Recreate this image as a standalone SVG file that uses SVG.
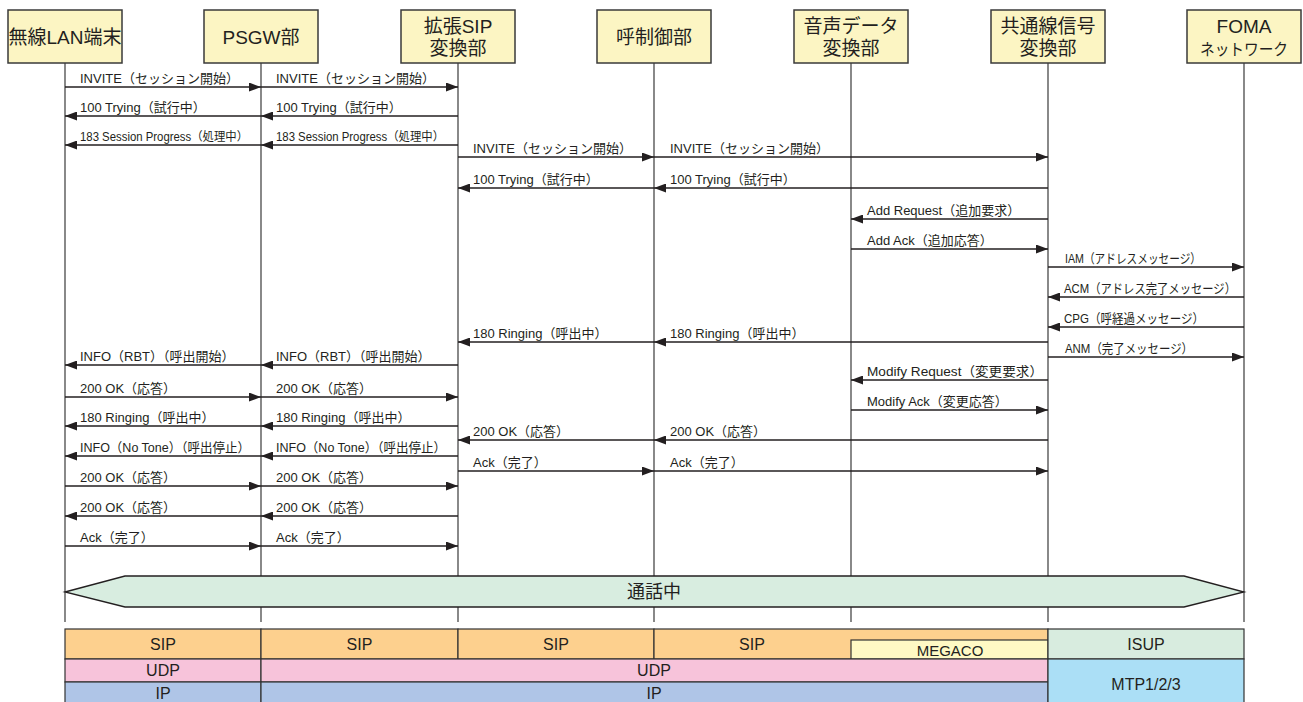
<svg xmlns="http://www.w3.org/2000/svg" width="1303" height="702" viewBox="0 0 1303 702">
<style>
text{font-family:"Liberation Sans","Noto Sans CJK JP",sans-serif;fill:#231f20}
.box{fill:#fcf5c3;stroke:#3a3a3a;stroke-width:1.5}
.ttl{font-size:19px;text-anchor:middle}
.ttls{font-size:16px;text-anchor:middle}
.life{stroke:#3a3a3a;stroke-width:1.2}
.msg{stroke:#231f20;stroke-width:1.3;marker-end:url(#ah)}
.lbl{font-size:13px}
.sm{font-size:12px}
.cell{stroke:#333;stroke-width:1.2}
.st{font-size:16px;text-anchor:middle}
.stm{font-size:15px;text-anchor:middle}
</style>
<defs>
<marker id="ah" markerUnits="userSpaceOnUse" markerWidth="13" markerHeight="9" refX="12" refY="4.5" orient="auto"><path d="M0,0 L12,4.5 L0,9 z" fill="#231f20"/></marker>
</defs>
<rect width="1303" height="702" fill="#fff"/>

<g id="lan">
<line class="life" x1="65" y1="63" x2="65" y2="622"/>
<rect class="box" x="8" y="10" width="114" height="53"/>
<text class="ttl" x="65" y="44">無線LAN端末</text>
</g>
<g id="psgw">
<line class="life" x1="261" y1="63" x2="261" y2="622"/>
<rect class="box" x="204" y="10" width="114" height="53"/>
<text class="ttl" x="261" y="44">PSGW部</text>
</g>
<g id="extsip">
<line class="life" x1="458" y1="63" x2="458" y2="622"/>
<rect class="box" x="401" y="10" width="114" height="53"/>
<text class="ttl" x="458" y="33">拡張SIP</text>
<text class="ttl" x="458" y="55">変換部</text>
</g>
<g id="callctl">
<line class="life" x1="654" y1="63" x2="654" y2="622"/>
<rect class="box" x="597" y="10" width="114" height="53"/>
<text class="ttl" x="654" y="44">呼制御部</text>
</g>
<g id="voice">
<line class="life" x1="851" y1="63" x2="851" y2="622"/>
<rect class="box" x="794" y="10" width="114" height="53"/>
<text class="ttl" x="851" y="33">音声データ</text>
<text class="ttl" x="851" y="55">変換部</text>
</g>
<g id="ccs">
<line class="life" x1="1048" y1="63" x2="1048" y2="622"/>
<rect class="box" x="991" y="10" width="114" height="53"/>
<text class="ttl" x="1048" y="33">共通線信号</text>
<text class="ttl" x="1048" y="55">変換部</text>
</g>
<g id="foma">
<line class="life" x1="1244" y1="63" x2="1244" y2="622"/>
<rect class="box" x="1187" y="10" width="114" height="53"/>
<text class="ttl" x="1244" y="33">FOMA</text>
<text class="ttls" x="1244" y="55" textLength="88" lengthAdjust="spacingAndGlyphs">ネットワーク</text>
</g>

<g id="connectors">
<line class="msg" x1="65" y1="87" x2="261" y2="87"/><text class="lbl" x="80" y="83">INVITE（セッション開始）</text>
<line class="msg" x1="261" y1="116" x2="65" y2="116"/><text class="lbl" x="80" y="112">100 Trying（試行中）</text>
<line class="msg" x1="261" y1="145" x2="65" y2="145"/><text class="sm" x="80" y="141" textLength="168" lengthAdjust="spacingAndGlyphs">183 Session Progress（処理中）</text>
<line class="msg" x1="261" y1="365" x2="65" y2="365"/><text class="lbl" x="80" y="361">INFO（RBT）（呼出開始）</text>
<line class="msg" x1="65" y1="397" x2="261" y2="397"/><text class="lbl" x="80" y="393">200 OK（応答）</text>
<line class="msg" x1="261" y1="426" x2="65" y2="426"/><text class="lbl" x="80" y="422">180 Ringing（呼出中）</text>
<line class="msg" x1="261" y1="456" x2="65" y2="456"/><text class="lbl" x="80" y="452" textLength="170" lengthAdjust="spacingAndGlyphs">INFO（No Tone）（呼出停止）</text>
<line class="msg" x1="65" y1="486" x2="261" y2="486"/><text class="lbl" x="80" y="482">200 OK（応答）</text>
<line class="msg" x1="261" y1="516" x2="65" y2="516"/><text class="lbl" x="80" y="512">200 OK（応答）</text>
<line class="msg" x1="65" y1="546" x2="261" y2="546"/><text class="lbl" x="80" y="542">Ack（完了）</text>

<line class="msg" x1="261" y1="87" x2="458" y2="87"/><text class="lbl" x="276" y="83">INVITE（セッション開始）</text>
<line class="msg" x1="458" y1="116" x2="261" y2="116"/><text class="lbl" x="276" y="112">100 Trying（試行中）</text>
<line class="msg" x1="458" y1="145" x2="261" y2="145"/><text class="sm" x="276" y="141" textLength="168" lengthAdjust="spacingAndGlyphs">183 Session Progress（処理中）</text>
<line class="msg" x1="458" y1="365" x2="261" y2="365"/><text class="lbl" x="276" y="361">INFO（RBT）（呼出開始）</text>
<line class="msg" x1="261" y1="397" x2="458" y2="397"/><text class="lbl" x="276" y="393">200 OK（応答）</text>
<line class="msg" x1="458" y1="426" x2="261" y2="426"/><text class="lbl" x="276" y="422">180 Ringing（呼出中）</text>
<line class="msg" x1="458" y1="456" x2="261" y2="456"/><text class="lbl" x="276" y="452" textLength="170" lengthAdjust="spacingAndGlyphs">INFO（No Tone）（呼出停止）</text>
<line class="msg" x1="261" y1="486" x2="458" y2="486"/><text class="lbl" x="276" y="482">200 OK（応答）</text>
<line class="msg" x1="458" y1="516" x2="261" y2="516"/><text class="lbl" x="276" y="512">200 OK（応答）</text>
<line class="msg" x1="261" y1="546" x2="458" y2="546"/><text class="lbl" x="276" y="542">Ack（完了）</text>

<line class="msg" x1="458" y1="157" x2="654" y2="157"/><text class="lbl" x="473" y="153">INVITE（セッション開始）</text>
<line class="msg" x1="654" y1="188" x2="458" y2="188"/><text class="lbl" x="473" y="184">100 Trying（試行中）</text>
<line class="msg" x1="654" y1="342" x2="458" y2="342"/><text class="lbl" x="473" y="338">180 Ringing（呼出中）</text>
<line class="msg" x1="654" y1="440" x2="458" y2="440"/><text class="lbl" x="473" y="436">200 OK（応答）</text>
<line class="msg" x1="458" y1="471" x2="654" y2="471"/><text class="lbl" x="473" y="467">Ack（完了）</text>

<line class="msg" x1="654" y1="157" x2="1048" y2="157"/><text class="lbl" x="670" y="153">INVITE（セッション開始）</text>
<line class="msg" x1="1048" y1="188" x2="654" y2="188"/><text class="lbl" x="670" y="184">100 Trying（試行中）</text>
<line class="msg" x1="1048" y1="342" x2="654" y2="342"/><text class="lbl" x="670" y="338">180 Ringing（呼出中）</text>
<line class="msg" x1="1048" y1="440" x2="654" y2="440"/><text class="lbl" x="670" y="436">200 OK（応答）</text>
<line class="msg" x1="654" y1="471" x2="1048" y2="471"/><text class="lbl" x="670" y="467">Ack（完了）</text>

<line class="msg" x1="1048" y1="219" x2="851" y2="219"/><text class="lbl" x="867" y="215">Add Request（追加要求）</text>
<line class="msg" x1="851" y1="249" x2="1048" y2="249"/><text class="lbl" x="867" y="245">Add Ack（追加応答）</text>
<line class="msg" x1="1048" y1="380" x2="851" y2="380"/><text class="lbl" x="867" y="376" textLength="176" lengthAdjust="spacingAndGlyphs">Modify Request（変更要求）</text>
<line class="msg" x1="851" y1="410" x2="1048" y2="410"/><text class="lbl" x="867" y="406">Modify Ack（変更応答）</text>

<line class="msg" x1="1048" y1="267" x2="1244" y2="267"/><text class="lbl" x="1065" y="263" textLength="136" lengthAdjust="spacingAndGlyphs">IAM（アドレスメッセージ）</text>
<line class="msg" x1="1244" y1="297" x2="1048" y2="297"/><text class="lbl" x="1064" y="293" textLength="172" lengthAdjust="spacingAndGlyphs">ACM（アドレス完了メッセージ）</text>
<line class="msg" x1="1244" y1="327" x2="1048" y2="327"/><text class="lbl" x="1064" y="323" textLength="140" lengthAdjust="spacingAndGlyphs">CPG（呼経過メッセージ）</text>
<line class="msg" x1="1048" y1="357" x2="1244" y2="357"/><text class="lbl" x="1065" y="353" textLength="128" lengthAdjust="spacingAndGlyphs">ANM（完了メッセージ）</text>
</g>

<g id="call">
<polygon points="65,592 125,576 1184,576 1244,592 1184,607 125,607" fill="#d8ede0" stroke="#231f20" stroke-width="1.3"/>
<text x="654" y="598" font-size="18" text-anchor="middle">通話中</text>
</g>

<g id="stack">
<rect class="cell" x="65" y="629" width="196" height="30" fill="#fdd08e"/>
<rect class="cell" x="261" y="629" width="197" height="30" fill="#fdd08e"/>
<rect class="cell" x="458" y="629" width="196" height="30" fill="#fdd08e"/>
<rect class="cell" x="654" y="629" width="394" height="30" fill="#fdd08e"/>
<rect class="cell" x="851" y="640" width="197" height="19" fill="#fff9c4"/>
<rect class="cell" x="1048" y="629" width="196" height="30" fill="#d8ecdf"/>
<rect class="cell" x="65" y="659" width="196" height="23" fill="#f7c3da"/>
<rect class="cell" x="261" y="659" width="787" height="23" fill="#f7c3da"/>
<rect class="cell" x="65" y="682" width="196" height="26" fill="#afc5e7"/>
<rect class="cell" x="261" y="682" width="787" height="26" fill="#afc5e7"/>
<rect class="cell" x="1048" y="659" width="196" height="49" fill="#abdff6"/>
<text class="st" x="163" y="650">SIP</text>
<text class="st" x="359.5" y="650">SIP</text>
<text class="st" x="556" y="650">SIP</text>
<text class="st" x="752" y="650">SIP</text>
<text class="stm" x="950" y="656">MEGACO</text>
<text class="st" x="1146" y="650">ISUP</text>
<text class="st" x="163" y="676">UDP</text>
<text class="st" x="654" y="676">UDP</text>
<text class="st" x="163" y="699">IP</text>
<text class="st" x="654" y="699">IP</text>
<text class="st" x="1146" y="690">MTP1/2/3</text>
</g>
</svg>
